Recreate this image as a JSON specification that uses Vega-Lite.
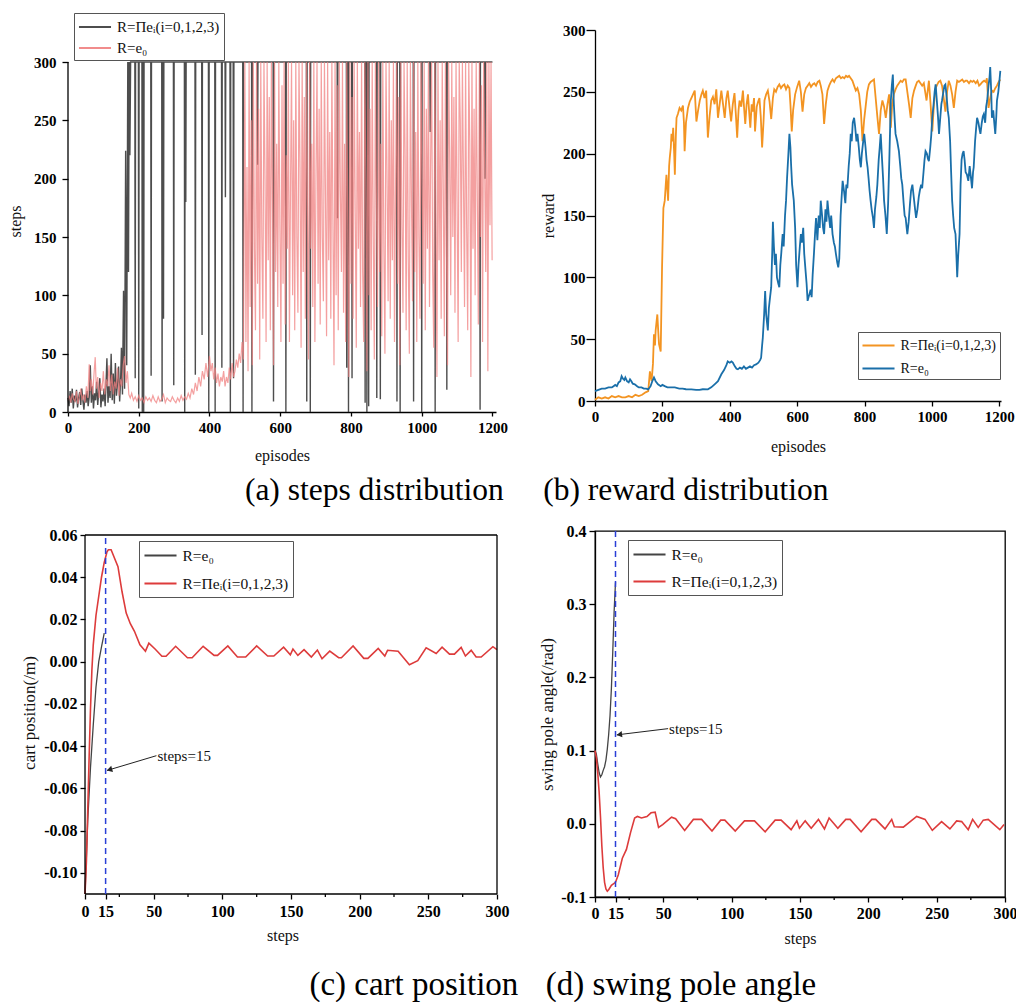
{
"$schema": "https://vega.github.io/schema/vega-lite/v6.json",
"background": "white",
"padding": {"left": 7, "top": 12, "right": 0, "bottom": 0},
"spacing": 15,
"resolve": {"scale": {"color": "independent"}, "legend": {"color": "independent"}},
"config": {
  "font": "Liberation Serif",
  "view": {"stroke": null},
  "axis": {"labelFont": "Liberation Serif", "titleFont": "Liberation Serif", "labelFontWeight": "bold", "labelFontSize": 15, "labelColor": "black", "titleFontWeight": "normal", "titleFontSize": 16, "titleColor": "#111", "domainColor": "black", "tickColor": "black", "grid": false, "domainWidth": 1.3, "tickWidth": 1.3, "labelFlush": false},
  "legend": {"labelFont": "Liberation Serif", "labelColor": "#111", "title": null, "symbolType": "M-1.78,0H1.78", "symbolSize": 324, "symbolOffset": 7, "symbolStrokeWidth": 1.8, "strokeColor": "#555", "fillColor": "white", "labelOffset": 12, "orient": "none", "direction": "vertical"},
  "title": {"font": "Liberation Serif", "fontSize": 32, "fontWeight": "normal", "color": "black"}
},
"datasets": {
  "a_black": [{"x":0,"y":12},{"x":3,"y":5},{"x":6,"y":18},{"x":9,"y":8},{"x":12,"y":20},{"x":15,"y":3},{"x":18,"y":14},{"x":21,"y":9},{"x":24,"y":19},{"x":27,"y":4},{"x":30,"y":12},{"x":33,"y":17},{"x":36,"y":6},{"x":39,"y":20},{"x":42,"y":10},{"x":45,"y":2},{"x":48,"y":15},{"x":51,"y":8},{"x":54,"y":18},{"x":57,"y":5},{"x":60,"y":13},{"x":63,"y":40},{"x":66,"y":8},{"x":69,"y":22},{"x":72,"y":3},{"x":75,"y":16},{"x":78,"y":10},{"x":81,"y":26},{"x":84,"y":6},{"x":87,"y":18},{"x":90,"y":29},{"x":93,"y":4},{"x":96,"y":15},{"x":99,"y":9},{"x":102,"y":20},{"x":105,"y":5},{"x":108,"y":28},{"x":110,"y":46},{"x":113,"y":8},{"x":116,"y":22},{"x":119,"y":12},{"x":122,"y":50},{"x":125,"y":10},{"x":128,"y":33},{"x":131,"y":7},{"x":134,"y":42},{"x":137,"y":14},{"x":140,"y":25},{"x":143,"y":39},{"x":146,"y":9},{"x":149,"y":30},{"x":151,"y":55},{"x":154,"y":15},{"x":157,"y":104},{"x":160,"y":20},{"x":163,"y":224},{"x":166,"y":40},{"x":169,"y":300},{"x":171,"y":120},{"x":173,"y":300},{"x":175,"y":220},{"x":177,"y":300},
  {"x":189,"y":300},{"x":190,"y":29},{"x":191,"y":300},{"x":199,"y":300},{"x":200,"y":3},{"x":201,"y":300},{"x":209,"y":300},{"x":210,"y":0},{"x":211,"y":300},{"x":213,"y":300},{"x":214,"y":0},{"x":215,"y":300},{"x":234,"y":300},{"x":235,"y":31},{"x":236,"y":300},{"x":265,"y":300},{"x":266,"y":9},{"x":267,"y":300},{"x":269,"y":300},{"x":270,"y":80},{"x":271,"y":300},{"x":298,"y":300},{"x":299,"y":23},{"x":300,"y":300},{"x":329,"y":300},{"x":330,"y":0},{"x":331,"y":300},{"x":332,"y":300},{"x":333,"y":180},{"x":334,"y":300},{"x":359,"y":300},{"x":360,"y":32},{"x":361,"y":300},{"x":378,"y":300},{"x":379,"y":66},{"x":380,"y":300},{"x":397,"y":300},{"x":398,"y":0},{"x":399,"y":300},{"x":415,"y":300},{"x":416,"y":0},{"x":417,"y":300},{"x":434,"y":300},{"x":435,"y":38},{"x":436,"y":300},{"x":444,"y":300},{"x":445,"y":184},{"x":446,"y":300},{"x":458,"y":300},{"x":459,"y":0},{"x":460,"y":300},{"x":467,"y":300},{"x":468,"y":29},{"x":469,"y":300},{"x":494,"y":300},{"x":495,"y":0},{"x":496,"y":300},{"x":519,"y":300},{"x":520,"y":0},{"x":521,"y":300},{"x":535,"y":300},{"x":536,"y":212},{"x":537,"y":300},{"x":580,"y":300},{"x":581,"y":9},{"x":582,"y":300},{"x":615,"y":300},{"x":616,"y":0},{"x":617,"y":300},{"x":674,"y":300},{"x":675,"y":9},{"x":676,"y":300},{"x":684,"y":300},{"x":685,"y":0},{"x":686,"y":300},{"x":761,"y":300},{"x":762,"y":166},{"x":763,"y":300},{"x":787,"y":300},{"x":788,"y":38},{"x":789,"y":300},{"x":792,"y":300},{"x":793,"y":0},{"x":794,"y":300},{"x":802,"y":300},{"x":803,"y":29},{"x":804,"y":300},{"x":839,"y":300},{"x":840,"y":8},{"x":841,"y":300},{"x":844,"y":300},{"x":845,"y":0},{"x":846,"y":300},{"x":849,"y":300},{"x":850,"y":5},{"x":851,"y":300},{"x":872,"y":300},{"x":873,"y":12},{"x":874,"y":300},{"x":882,"y":300},{"x":883,"y":11},{"x":884,"y":300},{"x":929,"y":300},{"x":930,"y":9},{"x":931,"y":300},{"x":938,"y":300},{"x":939,"y":0},{"x":940,"y":300},{"x":976,"y":300},{"x":977,"y":9},{"x":978,"y":300},{"x":999,"y":300},{"x":1000,"y":0},{"x":1001,"y":300},{"x":1023,"y":300},{"x":1024,"y":240},{"x":1025,"y":300},{"x":1037,"y":300},{"x":1038,"y":0},{"x":1039,"y":300},{"x":1070,"y":300},{"x":1071,"y":19},{"x":1072,"y":300},{"x":1164,"y":300},{"x":1165,"y":2},{"x":1166,"y":300},{"x":1178,"y":300},{"x":1179,"y":200},{"x":1180,"y":300},{"x":1200,"y":300}],
  "a_pink": [{"x":0,"y":10},{"x":4,"y":14},{"x":8,"y":8},{"x":12,"y":16},{"x":16,"y":11},{"x":20,"y":9},{"x":24,"y":18},{"x":28,"y":7},{"x":32,"y":13},{"x":36,"y":20},{"x":40,"y":10},{"x":44,"y":15},{"x":48,"y":8},{"x":52,"y":22},{"x":56,"y":12},{"x":60,"y":41},{"x":63,"y":18},{"x":66,"y":28},{"x":70,"y":15},{"x":74,"y":35},{"x":77,"y":47},{"x":80,"y":20},{"x":84,"y":30},{"x":88,"y":12},{"x":92,"y":25},{"x":96,"y":18},{"x":100,"y":35},{"x":104,"y":15},{"x":108,"y":28},{"x":112,"y":22},{"x":116,"y":40},{"x":120,"y":18},{"x":124,"y":32},{"x":128,"y":15},{"x":132,"y":26},{"x":136,"y":20},{"x":140,"y":38},{"x":144,"y":14},{"x":148,"y":28},{"x":152,"y":22},{"x":156,"y":40},{"x":160,"y":48},{"x":164,"y":25},{"x":168,"y":35},{"x":172,"y":15},{"x":176,"y":12},{"x":180,"y":16},{"x":185,"y":10},{"x":190,"y":13},{"x":195,"y":9},{"x":200,"y":14},{"x":205,"y":10},{"x":210,"y":12},{"x":215,"y":8},{"x":220,"y":13},{"x":225,"y":10},{"x":230,"y":12},{"x":235,"y":9},{"x":240,"y":14},{"x":245,"y":10},{"x":250,"y":8},{"x":255,"y":13},{"x":260,"y":9},{"x":265,"y":11},{"x":270,"y":15},{"x":275,"y":8},{"x":280,"y":12},{"x":285,"y":10},{"x":290,"y":9},{"x":295,"y":13},{"x":300,"y":10},{"x":305,"y":8},{"x":310,"y":12},{"x":315,"y":9},{"x":320,"y":14},{"x":325,"y":10},{"x":330,"y":13},{"x":335,"y":11},{"x":340,"y":16},{"x":345,"y":12},{"x":350,"y":20},{"x":355,"y":15},{"x":360,"y":25},{"x":365,"y":18},{"x":370,"y":30},{"x":375,"y":22},{"x":380,"y":35},{"x":385,"y":28},{"x":390,"y":42},{"x":395,"y":30},{"x":400,"y":48},{"x":404,"y":35},{"x":408,"y":42},{"x":412,"y":28},{"x":416,"y":38},{"x":420,"y":25},{"x":424,"y":33},{"x":428,"y":22},{"x":432,"y":30},{"x":436,"y":26},{"x":440,"y":35},{"x":444,"y":22},{"x":448,"y":30},{"x":452,"y":25},{"x":456,"y":38},{"x":460,"y":28},{"x":464,"y":42},{"x":468,"y":30},{"x":472,"y":35},{"x":476,"y":45},{"x":480,"y":38},{"x":484,"y":50},{"x":488,"y":42},{"x":492,"y":60},{"x":496,"y":45},{"x":500,"y":300},{"x":503,"y":60},{"x":506,"y":210},{"x":509,"y":35},{"x":512,"y":300},{"x":515,"y":90},{"x":518,"y":250},{"x":521,"y":40},{"x":524,"y":300},{"x":527,"y":140},{"x":530,"y":70},{"x":533,"y":300},{"x":536,"y":110},{"x":539,"y":260},{"x":542,"y":45},{"x":545,"y":300},{"x":548,"y":150},{"x":551,"y":80},{"x":554,"y":300},{"x":557,"y":200},{"x":560,"y":60},{"x":563,"y":300},{"x":566,"y":130},{"x":569,"y":270},{"x":572,"y":70},{"x":575,"y":300},{"x":578,"y":180},{"x":581,"y":40},{"x":584,"y":300},{"x":587,"y":120},{"x":590,"y":230},{"x":593,"y":90},{"x":596,"y":300},{"x":599,"y":160},{"x":602,"y":60},{"x":605,"y":280},{"x":608,"y":110},{"x":611,"y":300},{"x":614,"y":75},{"x":617,"y":220},{"x":620,"y":140},{"x":623,"y":300},{"x":626,"y":60},{"x":629,"y":190},{"x":632,"y":300},{"x":635,"y":100},{"x":638,"y":250},{"x":641,"y":70},{"x":644,"y":300},{"x":647,"y":150},{"x":650,"y":85},{"x":653,"y":300},{"x":656,"y":210},{"x":659,"y":55},{"x":662,"y":300},{"x":665,"y":120},{"x":668,"y":270},{"x":671,"y":80},{"x":674,"y":300},{"x":677,"y":175},{"x":680,"y":45},{"x":683,"y":300},{"x":686,"y":140},{"x":689,"y":230},{"x":692,"y":90},{"x":695,"y":300},{"x":698,"y":60},{"x":701,"y":200},{"x":704,"y":300},{"x":707,"y":110},{"x":710,"y":260},{"x":713,"y":75},{"x":716,"y":300},{"x":719,"y":150},{"x":722,"y":95},{"x":725,"y":300},{"x":728,"y":180},{"x":731,"y":65},{"x":734,"y":300},{"x":737,"y":130},{"x":740,"y":240},{"x":743,"y":80},{"x":746,"y":300},{"x":749,"y":160},{"x":752,"y":40},{"x":755,"y":300},{"x":758,"y":100},{"x":761,"y":280},{"x":764,"y":70},{"x":767,"y":300},{"x":770,"y":190},{"x":773,"y":120},{"x":776,"y":300},{"x":779,"y":85},{"x":782,"y":230},{"x":785,"y":60},{"x":788,"y":300},{"x":791,"y":150},{"x":794,"y":30},{"x":797,"y":300},{"x":800,"y":110},{"x":803,"y":270},{"x":806,"y":80},{"x":809,"y":300},{"x":812,"y":170},{"x":815,"y":55},{"x":818,"y":300},{"x":821,"y":140},{"x":824,"y":240},{"x":827,"y":90},{"x":830,"y":300},{"x":833,"y":120},{"x":836,"y":60},{"x":839,"y":300},{"x":842,"y":200},{"x":845,"y":35},{"x":848,"y":300},{"x":851,"y":100},{"x":854,"y":260},{"x":857,"y":70},{"x":860,"y":300},{"x":863,"y":150},{"x":866,"y":45},{"x":869,"y":300},{"x":872,"y":180},{"x":875,"y":90},{"x":878,"y":300},{"x":881,"y":120},{"x":884,"y":230},{"x":887,"y":65},{"x":890,"y":300},{"x":893,"y":140},{"x":896,"y":50},{"x":899,"y":300},{"x":902,"y":200},{"x":905,"y":95},{"x":908,"y":300},{"x":911,"y":80},{"x":914,"y":250},{"x":917,"y":130},{"x":920,"y":300},{"x":923,"y":60},{"x":926,"y":190},{"x":929,"y":300},{"x":932,"y":110},{"x":935,"y":270},{"x":938,"y":40},{"x":941,"y":300},{"x":944,"y":160},{"x":947,"y":85},{"x":950,"y":300},{"x":953,"y":220},{"x":956,"y":70},{"x":959,"y":300},{"x":962,"y":130},{"x":965,"y":50},{"x":968,"y":300},{"x":971,"y":180},{"x":974,"y":95},{"x":977,"y":300},{"x":980,"y":120},{"x":983,"y":240},{"x":986,"y":60},{"x":989,"y":300},{"x":992,"y":150},{"x":995,"y":80},{"x":998,"y":300},{"x":1001,"y":200},{"x":1004,"y":110},{"x":1007,"y":300},{"x":1010,"y":70},{"x":1013,"y":260},{"x":1016,"y":140},{"x":1019,"y":300},{"x":1022,"y":90},{"x":1025,"y":210},{"x":1028,"y":300},{"x":1031,"y":120},{"x":1034,"y":55},{"x":1037,"y":300},{"x":1040,"y":170},{"x":1043,"y":30},{"x":1046,"y":300},{"x":1049,"y":130},{"x":1052,"y":250},{"x":1055,"y":80},{"x":1058,"y":300},{"x":1061,"y":190},{"x":1064,"y":65},{"x":1067,"y":300},{"x":1070,"y":140},{"x":1073,"y":40},{"x":1076,"y":300},{"x":1079,"y":220},{"x":1082,"y":100},{"x":1085,"y":300},{"x":1088,"y":150},{"x":1091,"y":270},{"x":1094,"y":85},{"x":1097,"y":300},{"x":1100,"y":180},{"x":1103,"y":60},{"x":1106,"y":300},{"x":1109,"y":250},{"x":1112,"y":120},{"x":1115,"y":300},{"x":1118,"y":200},{"x":1121,"y":90},{"x":1124,"y":300},{"x":1127,"y":160},{"x":1130,"y":70},{"x":1133,"y":300},{"x":1136,"y":230},{"x":1139,"y":30},{"x":1142,"y":300},{"x":1145,"y":140},{"x":1148,"y":260},{"x":1151,"y":100},{"x":1154,"y":300},{"x":1157,"y":190},{"x":1160,"y":75},{"x":1163,"y":300},{"x":1166,"y":150},{"x":1169,"y":280},{"x":1172,"y":60},{"x":1175,"y":300},{"x":1178,"y":210},{"x":1181,"y":120},{"x":1184,"y":300},{"x":1187,"y":35},{"x":1190,"y":300},{"x":1193,"y":160},{"x":1196,"y":300},{"x":1199,"y":130}],
  "a_axis": [{"x":0,"y":0,"y2":300}],
  "b_orange": [{"x":0,"y":1},{"x":10,"y":3},{"x":20,"y":2},{"x":30,"y":3},{"x":40,"y":2},{"x":50,"y":4},{"x":60,"y":3},{"x":70,"y":4},{"x":80,"y":3},{"x":90,"y":3},{"x":100,"y":4},{"x":110,"y":3},{"x":120,"y":5},{"x":130,"y":4},{"x":140,"y":5},{"x":150,"y":7},{"x":158,"y":8},{"x":163,"y":24},{"x":168,"y":16},{"x":172,"y":30},{"x":175,"y":54},{"x":178,"y":45},{"x":180,"y":57},{"x":183,"y":65},{"x":185,"y":70},{"x":188,"y":55},{"x":190,"y":46},{"x":195,"y":40},{"x":199,"y":108},{"x":203,"y":156},{"x":207,"y":162},{"x":210,"y":175},{"x":212,"y":183},{"x":215,"y":170},{"x":217,"y":162},{"x":220,"y":190},{"x":222,"y":197},{"x":225,"y":205},{"x":227,"y":216},{"x":230,"y":210},{"x":232,"y":221},{"x":235,"y":200},{"x":237,"y":183},{"x":240,"y":215},{"x":242,"y":229},{"x":246,"y":232},{"x":251,"y":237},{"x":256,"y":235},{"x":261,"y":239},{"x":264,"y":225},{"x":266,"y":202},{"x":270,"y":225},{"x":276,"y":237},{"x":281,"y":242},{"x":286,"y":245},{"x":291,"y":248},{"x":296,"y":251},{"x":301,"y":226},{"x":306,"y":235},{"x":311,"y":243},{"x":316,"y":248},{"x":320,"y":251},{"x":325,"y":245},{"x":330,"y":251},{"x":335,"y":213},{"x":340,"y":230},{"x":345,"y":243},{"x":350,"y":246},{"x":355,"y":240},{"x":360,"y":252},{"x":365,"y":229},{"x":370,"y":240},{"x":375,"y":251},{"x":380,"y":240},{"x":385,"y":229},{"x":390,"y":245},{"x":394,"y":251},{"x":399,"y":238},{"x":404,"y":226},{"x":409,"y":240},{"x":414,"y":249},{"x":418,"y":232},{"x":422,"y":213},{"x":426,"y":235},{"x":429,"y":243},{"x":434,"y":238},{"x":439,"y":251},{"x":443,"y":235},{"x":446,"y":224},{"x":450,"y":240},{"x":454,"y":248},{"x":458,"y":232},{"x":461,"y":221},{"x":465,"y":240},{"x":468,"y":234},{"x":472,"y":245},{"x":475,"y":218},{"x":480,"y":238},{"x":484,"y":242},{"x":488,"y":245},{"x":492,"y":230},{"x":496,"y":205},{"x":500,"y":225},{"x":503,"y":243},{"x":508,"y":248},{"x":513,"y":251},{"x":518,"y":242},{"x":523,"y":228},{"x":528,"y":245},{"x":532,"y":252},{"x":537,"y":250},{"x":542,"y":254},{"x":547,"y":256},{"x":552,"y":253},{"x":557,"y":255},{"x":562,"y":256},{"x":567,"y":252},{"x":572,"y":255},{"x":577,"y":253},{"x":580,"y":240},{"x":584,"y":218},{"x":588,"y":235},{"x":594,"y":248},{"x":600,"y":254},{"x":606,"y":259},{"x":611,"y":250},{"x":616,"y":234},{"x":621,"y":248},{"x":626,"y":253},{"x":631,"y":255},{"x":636,"y":257},{"x":641,"y":254},{"x":646,"y":256},{"x":651,"y":257},{"x":656,"y":255},{"x":661,"y":258},{"x":666,"y":259},{"x":670,"y":255},{"x":675,"y":248},{"x":680,"y":224},{"x":685,"y":240},{"x":690,"y":251},{"x":695,"y":255},{"x":700,"y":258},{"x":705,"y":260},{"x":710,"y":258},{"x":715,"y":261},{"x":720,"y":262},{"x":725,"y":263},{"x":730,"y":261},{"x":735,"y":262},{"x":740,"y":261},{"x":745,"y":263},{"x":750,"y":262},{"x":754,"y":263},{"x":759,"y":261},{"x":764,"y":259},{"x":769,"y":255},{"x":774,"y":251},{"x":779,"y":253},{"x":784,"y":248},{"x":789,"y":235},{"x":794,"y":210},{"x":799,"y":228},{"x":804,"y":240},{"x":808,"y":250},{"x":813,"y":256},{"x":818,"y":258},{"x":823,"y":259},{"x":828,"y":260},{"x":833,"y":245},{"x":838,"y":230},{"x":843,"y":216},{"x":848,"y":235},{"x":853,"y":243},{"x":858,"y":238},{"x":863,"y":229},{"x":868,"y":240},{"x":873,"y":248},{"x":878,"y":221},{"x":882,"y":240},{"x":887,"y":248},{"x":892,"y":252},{"x":897,"y":255},{"x":902,"y":257},{"x":907,"y":259},{"x":912,"y":258},{"x":917,"y":260},{"x":922,"y":260},{"x":927,"y":250},{"x":932,"y":240},{"x":937,"y":229},{"x":942,"y":245},{"x":947,"y":251},{"x":952,"y":255},{"x":956,"y":258},{"x":961,"y":259},{"x":966,"y":257},{"x":971,"y":255},{"x":976,"y":257},{"x":980,"y":250},{"x":984,"y":243},{"x":988,"y":252},{"x":991,"y":259},{"x":996,"y":240},{"x":1001,"y":218},{"x":1006,"y":240},{"x":1011,"y":253},{"x":1016,"y":256},{"x":1020,"y":258},{"x":1025,"y":259},{"x":1030,"y":255},{"x":1035,"y":245},{"x":1040,"y":234},{"x":1045,"y":250},{"x":1050,"y":259},{"x":1055,"y":255},{"x":1060,"y":248},{"x":1065,"y":237},{"x":1070,"y":250},{"x":1075,"y":259},{"x":1080,"y":258},{"x":1085,"y":259},{"x":1090,"y":260},{"x":1095,"y":258},{"x":1100,"y":259},{"x":1104,"y":259},{"x":1110,"y":257},{"x":1115,"y":259},{"x":1120,"y":258},{"x":1124,"y":259},{"x":1130,"y":257},{"x":1135,"y":259},{"x":1140,"y":255},{"x":1144,"y":256},{"x":1150,"y":258},{"x":1155,"y":259},{"x":1160,"y":258},{"x":1163,"y":261},{"x":1168,"y":237},{"x":1173,"y":245},{"x":1178,"y":251},{"x":1183,"y":250},{"x":1188,"y":253},{"x":1193,"y":255},{"x":1198,"y":258},{"x":1203,"y":260}],
  "b_blue": [{"x":0,"y":8},{"x":10,"y":9},{"x":20,"y":10},{"x":30,"y":10},{"x":40,"y":11},{"x":50,"y":11},{"x":55,"y":12},{"x":60,"y":13},{"x":65,"y":12},{"x":70,"y":15},{"x":75,"y":16},{"x":79,"y":20},{"x":83,"y":18},{"x":87,"y":17},{"x":90,"y":19},{"x":95,"y":16},{"x":100,"y":15},{"x":104,"y":17.5},{"x":108,"y":16},{"x":112,"y":14},{"x":118,"y":13.5},{"x":125,"y":12},{"x":130,"y":11},{"x":138,"y":11},{"x":145,"y":10},{"x":152,"y":10},{"x":158,"y":9.4},{"x":165,"y":12},{"x":170,"y":16},{"x":175,"y":19},{"x":180,"y":16},{"x":187,"y":13.5},{"x":195,"y":12},{"x":200,"y":13},{"x":207,"y":12},{"x":215,"y":11},{"x":225,"y":11},{"x":237,"y":11},{"x":250,"y":10},{"x":260,"y":10},{"x":270,"y":9.5},{"x":286,"y":9.4},{"x":300,"y":9},{"x":310,"y":9},{"x":320,"y":9.5},{"x":335,"y":9.4},{"x":345,"y":11},{"x":355,"y":13.5},{"x":365,"y":16},{"x":375,"y":21.6},{"x":383,"y":25},{"x":390,"y":29},{"x":394,"y":32},{"x":400,"y":31},{"x":405,"y":32},{"x":409,"y":31},{"x":415,"y":28},{"x":420,"y":26},{"x":424,"y":25.6},{"x":430,"y":27},{"x":436,"y":26},{"x":442,"y":28},{"x":448,"y":26},{"x":454,"y":27},{"x":460,"y":28},{"x":466,"y":27},{"x":472,"y":29},{"x":478,"y":29.6},{"x":485,"y":31},{"x":490,"y":33},{"x":493,"y":35},{"x":496,"y":45},{"x":498,"y":51},{"x":502,"y":70},{"x":505,"y":89},{"x":508,"y":70},{"x":513,"y":57},{"x":516,"y":75},{"x":520,"y":85},{"x":523,"y":92},{"x":526,"y":120},{"x":528,"y":145},{"x":531,"y":125},{"x":534,"y":110},{"x":537,"y":119},{"x":540,"y":100},{"x":544,"y":95},{"x":547,"y":92},{"x":550,"y":110},{"x":553,"y":120},{"x":557,"y":135},{"x":560,"y":125},{"x":564,"y":150},{"x":567,"y":162},{"x":570,"y":180},{"x":574,"y":200},{"x":577,"y":216},{"x":580,"y":205},{"x":582,"y":191},{"x":585,"y":175},{"x":590,"y":162},{"x":594,"y":140},{"x":597,"y":110},{"x":601,"y":92},{"x":604,"y":110},{"x":608,"y":125},{"x":611,"y":135},{"x":614,"y":128},{"x":618,"y":140},{"x":621,"y":119},{"x":625,"y":105},{"x":628,"y":95},{"x":631,"y":81},{"x":635,"y":85},{"x":640,"y":90},{"x":643,"y":84},{"x":646,"y":102},{"x":650,"y":120},{"x":653,"y":135},{"x":656,"y":148},{"x":660,"y":130},{"x":664,"y":150},{"x":667,"y":140},{"x":670,"y":162},{"x":674,"y":150},{"x":677,"y":140},{"x":680,"y":135},{"x":684,"y":155},{"x":687,"y":145},{"x":690,"y":162},{"x":694,"y":150},{"x":698,"y":140},{"x":701,"y":150},{"x":705,"y":135},{"x":709,"y":128},{"x":712,"y":125},{"x":715,"y":119},{"x":719,"y":112},{"x":722,"y":108},{"x":725,"y":115},{"x":729,"y":150},{"x":732,"y":165},{"x":735,"y":178},{"x":739,"y":170},{"x":743,"y":160},{"x":746,"y":175},{"x":749,"y":172},{"x":753,"y":190},{"x":756,"y":200},{"x":759,"y":216},{"x":762,"y":210},{"x":765,"y":225},{"x":769,"y":229},{"x":772,"y":222},{"x":776,"y":210},{"x":779,"y":216},{"x":783,"y":205},{"x":786,"y":195},{"x":789,"y":189},{"x":792,"y":200},{"x":796,"y":210},{"x":799,"y":216},{"x":803,"y":205},{"x":806,"y":195},{"x":809,"y":189},{"x":812,"y":180},{"x":815,"y":170},{"x":818,"y":162},{"x":821,"y":155},{"x":825,"y":148},{"x":828,"y":140},{"x":831,"y":155},{"x":835,"y":165},{"x":838,"y":175},{"x":842,"y":195},{"x":845,"y":205},{"x":848,"y":216},{"x":851,"y":200},{"x":855,"y":180},{"x":858,"y":162},{"x":862,"y":150},{"x":866,"y":135},{"x":870,"y":160},{"x":874,"y":200},{"x":878,"y":243},{"x":881,"y":255},{"x":884,"y":264},{"x":887,"y":240},{"x":890,"y":225},{"x":892,"y":216},{"x":897,"y":210},{"x":902,"y":202},{"x":906,"y":190},{"x":909,"y":180},{"x":912,"y":175},{"x":916,"y":160},{"x":919,"y":150},{"x":922,"y":148},{"x":925,"y":140},{"x":927,"y":135},{"x":931,"y":145},{"x":935,"y":160},{"x":938,"y":170},{"x":942,"y":175},{"x":946,"y":165},{"x":950,"y":155},{"x":953,"y":148},{"x":957,"y":155},{"x":961,"y":165},{"x":964,"y":170},{"x":968,"y":175},{"x":971,"y":172},{"x":975,"y":185},{"x":978,"y":195},{"x":981,"y":202},{"x":985,"y":200},{"x":988,"y":196},{"x":991,"y":194},{"x":995,"y":205},{"x":998,"y":215},{"x":1001,"y":229},{"x":1005,"y":240},{"x":1008,"y":250},{"x":1011,"y":256},{"x":1014,"y":245},{"x":1018,"y":230},{"x":1021,"y":216},{"x":1025,"y":230},{"x":1028,"y":240},{"x":1030,"y":243},{"x":1034,"y":250},{"x":1037,"y":255},{"x":1040,"y":256},{"x":1044,"y":245},{"x":1047,"y":235},{"x":1050,"y":229},{"x":1054,"y":210},{"x":1057,"y":185},{"x":1060,"y":162},{"x":1063,"y":150},{"x":1066,"y":140},{"x":1070,"y":135},{"x":1073,"y":115},{"x":1075,"y":100},{"x":1078,"y":118},{"x":1082,"y":135},{"x":1085,"y":175},{"x":1088,"y":195},{"x":1091,"y":200},{"x":1094,"y":202},{"x":1097,"y":195},{"x":1100,"y":185},{"x":1104,"y":183},{"x":1108,"y":178},{"x":1112,"y":190},{"x":1116,"y":180},{"x":1119,"y":172},{"x":1122,"y":185},{"x":1124,"y":189},{"x":1128,"y":210},{"x":1131,"y":220},{"x":1134,"y":229},{"x":1138,"y":225},{"x":1141,"y":220},{"x":1144,"y":216},{"x":1148,"y":225},{"x":1151,"y":230},{"x":1154,"y":232},{"x":1158,"y":225},{"x":1161,"y":238},{"x":1164,"y":243},{"x":1168,"y":255},{"x":1171,"y":262},{"x":1173,"y":270},{"x":1176,"y":250},{"x":1178,"y":229},{"x":1182,"y":235},{"x":1185,"y":225},{"x":1188,"y":216},{"x":1191,"y":230},{"x":1193,"y":243},{"x":1197,"y":250},{"x":1200,"y":258},{"x":1203,"y":267}],
  "c_black": [{"x":0,"y":-0.11},{"x":2,"y":-0.075},{"x":4,"y":-0.05},{"x":6,"y":-0.03},{"x":8,"y":-0.012},{"x":10,"y":0.0},{"x":12,"y":0.007},{"x":14,"y":0.0135}],
  "c_red": [{"x":0,"y":-0.11},{"x":1,"y":-0.095},{"x":2,"y":-0.07},{"x":3,"y":-0.045},{"x":4,"y":-0.022},{"x":5,"y":-0.004},{"x":6,"y":0.008},{"x":8,"y":0.022},{"x":10,"y":0.031},{"x":12,"y":0.04},{"x":14,"y":0.047},{"x":16,"y":0.052},{"x":17,"y":0.053},{"x":19,"y":0.053},{"x":24,"y":0.045},{"x":27,"y":0.033},{"x":30,"y":0.023},{"x":33,"y":0.018},{"x":36,"y":0.0144},{"x":40,"y":0.008},{"x":42,"y":0.0065},{"x":44,"y":0.005},{"x":46.5,"y":0.0088},{"x":51,"y":0.006},{"x":56,"y":0.0026},{"x":59,"y":0.0026},{"x":66,"y":0.0073},{"x":74.6,"y":0.0019},{"x":78,"y":0.0019},{"x":86,"y":0.0073},{"x":94,"y":0.003},{"x":96.5,"y":0.003},{"x":104,"y":0.0075},{"x":111,"y":0.0022},{"x":117,"y":0.0022},{"x":125,"y":0.0075},{"x":133,"y":0.0027},{"x":137.5,"y":0.0027},{"x":144.6,"y":0.0069},{"x":149.5,"y":0.0033},{"x":151.4,"y":0.006},{"x":155,"y":0.003},{"x":159.5,"y":0.0057},{"x":164.8,"y":0.0022},{"x":169.2,"y":0.0055},{"x":172.6,"y":0.0014},{"x":178.2,"y":0.005},{"x":184.7,"y":0.0019},{"x":186.7,"y":0.0019},{"x":195.2,"y":0.0075},{"x":203,"y":0.0016},{"x":206,"y":0.0016},{"x":213.5,"y":0.0063},{"x":218.3,"y":0.0027},{"x":220.3,"y":0.0054},{"x":228,"y":0.005},{"x":236.2,"y":-0.0014},{"x":242.3,"y":0.0005},{"x":248.4,"y":0.0066},{"x":255.7,"y":0.0039},{"x":260,"y":0.0069},{"x":265.4,"y":0.0036},{"x":269,"y":0.0036},{"x":273.9,"y":0.0068},{"x":277,"y":0.0027},{"x":281.2,"y":0.0054},{"x":284.8,"y":0.0022},{"x":288.5,"y":0.0022},{"x":297,"y":0.0071},{"x":300,"y":0.0057}],
  "c_frame": [{"x":0,"y":-0.11,"x2":300,"y2":-0.11},{"x":0,"y":0.06,"x2":300,"y2":0.06},{"x":0,"y":-0.11,"x2":0,"y2":0.06},{"x":300,"y":-0.11,"x2":300,"y2":0.06}],
  "c_minor": [{"x":25,"y":-0.11,"y2":-0.1114},{"x":75,"y":-0.11,"y2":-0.1114},{"x":125,"y":-0.11,"y2":-0.1114},{"x":175,"y":-0.11,"y2":-0.1114},{"x":225,"y":-0.11,"y2":-0.1114},{"x":275,"y":-0.11,"y2":-0.1114}],
  "d_minor": [{"x":25,"y":-0.1,"y2":-0.1041},{"x":75,"y":-0.1,"y2":-0.1041},{"x":125,"y":-0.1,"y2":-0.1041},{"x":175,"y":-0.1,"y2":-0.1041},{"x":225,"y":-0.1,"y2":-0.1041},{"x":275,"y":-0.1,"y2":-0.1041}],
  "d_black": [{"x":0,"y":0.1},{"x":1,"y":0.095},{"x":2,"y":0.082},{"x":3,"y":0.07},{"x":4,"y":0.064},{"x":5,"y":0.067},{"x":6,"y":0.073},{"x":7,"y":0.078},{"x":8,"y":0.087},{"x":9,"y":0.102},{"x":10,"y":0.122},{"x":11,"y":0.148},{"x":12,"y":0.185},{"x":13,"y":0.235},{"x":14,"y":0.29},{"x":15,"y":0.33}],
  "d_red": [{"x":0,"y":0.1},{"x":1,"y":0.09},{"x":2,"y":0.07},{"x":3,"y":0.044},{"x":4,"y":0.01},{"x":5,"y":-0.03},{"x":6,"y":-0.06},{"x":7,"y":-0.08},{"x":8,"y":-0.089},{"x":9,"y":-0.092},{"x":10,"y":-0.09},{"x":12,"y":-0.084},{"x":15,"y":-0.08},{"x":17,"y":-0.07},{"x":20,"y":-0.047},{"x":23,"y":-0.035},{"x":26,"y":-0.012},{"x":29,"y":0.008},{"x":31,"y":0.01},{"x":34,"y":0.008},{"x":38,"y":0.01},{"x":41,"y":0.015},{"x":44,"y":0.016},{"x":46.5,"y":-0.005},{"x":49.5,"y":-0.001},{"x":56,"y":0.009},{"x":59,"y":0.007},{"x":65.6,"y":-0.009},{"x":72,"y":0.006},{"x":78,"y":0.006},{"x":85.6,"y":-0.01},{"x":92,"y":0.005},{"x":95,"y":0.005},{"x":102.6,"y":-0.01},{"x":109.4,"y":0.004},{"x":116.7,"y":0.004},{"x":124.5,"y":-0.011},{"x":131.8,"y":0.005},{"x":136.2,"y":0.005},{"x":143.5,"y":-0.008},{"x":147.7,"y":0.004},{"x":149.6,"y":-0.006},{"x":153.8,"y":0.004},{"x":158.2,"y":-0.006},{"x":163.5,"y":0.006},{"x":167.9,"y":-0.007},{"x":171.3,"y":0.008},{"x":177.7,"y":-0.006},{"x":183.5,"y":0.006},{"x":186.7,"y":0.006},{"x":194.7,"y":-0.011},{"x":202.5,"y":0.006},{"x":205.4,"y":0.006},{"x":212.2,"y":-0.007},{"x":217.1,"y":0.006},{"x":219,"y":-0.004},{"x":225.6,"y":-0.0045},{"x":235.4,"y":0.01},{"x":241.5,"y":0.006},{"x":246.8,"y":-0.009},{"x":253.6,"y":0.003},{"x":259.7,"y":-0.007},{"x":264.6,"y":0.004},{"x":268.3,"y":0.003},{"x":273.1,"y":-0.008},{"x":276.3,"y":0.006},{"x":280.4,"y":-0.005},{"x":284.1,"y":0.005},{"x":287.7,"y":0.006},{"x":296.2,"y":-0.008},{"x":299.3,"y":-0.001}],
  "vline": [{"x":15}],
  "c_note": [{"x":52,"y":-0.0445,"x2":16,"y2":-0.0515,"hx":17.8,"hy":-0.0511,"label":"steps=15"}],
  "d_note": [{"x":53.5,"y":0.13,"x2":16,"y2":0.1215,"hx":17.8,"hy":0.1219,"label":"steps=15"}]
},
"vconcat": [
 {
  "hconcat": [
   {
    "width": 428, "height": 382,
    "layer": [
     {"data": {"name": "a_black"}, "mark": {"type": "line", "strokeWidth": 1.4, "opacity": 0.9},
      "encoding": {
       "x": {"field": "x", "type": "quantitative", "scale": {"domain": [0, 1210], "nice": false}, "axis": {"values": [0,200,400,600,800,1000,1200], "format": "d", "title": "episodes", "tickSize": 4, "labelPadding": 4, "titlePadding": 12}},
       "y": {"field": "y", "type": "quantitative", "scale": {"domain": [0, 327.43], "nice": false}, "axis": {"values": [0,50,100,150,200,250,300], "domain": false, "title": "steps", "tickSize": 6, "labelPadding": 6, "minExtent": 35, "maxExtent": 35, "titlePadding": 10}},
       "color": {"datum": "R=Πeᵢ(i=0,1,2,3)", "scale": {"domain": ["R=Πeᵢ(i=0,1,2,3)", "R=e₀"], "range": ["#3a3a3a", "#f08080"]}, "legend": {"legendX": 6, "legendY": -17, "labelFontSize": 15, "padding": 4, "rowPadding": 3}}
      }},
     {"data": {"name": "a_pink"}, "mark": {"type": "line", "strokeWidth": 1.2, "opacity": 0.75},
      "encoding": {"x": {"field": "x", "type": "quantitative"}, "y": {"field": "y", "type": "quantitative"}, "color": {"datum": "R=e₀"}}},
     {"data": {"name": "a_axis"}, "mark": {"type": "rule", "color": "black", "strokeWidth": 1.3},
      "encoding": {"x": {"field": "x", "type": "quantitative"}, "y": {"field": "y", "type": "quantitative"}, "y2": {"field": "y2"}}}
    ]
   },
   {
    "width": 406, "height": 371,
    "layer": [
     {"data": {"name": "b_orange"}, "mark": {"type": "line", "strokeWidth": 1.8},
      "encoding": {
       "x": {"field": "x", "type": "quantitative", "scale": {"domain": [0, 1205], "nice": false}, "axis": {"values": [0,200,400,600,800,1000,1200], "format": "d", "title": "episodes", "tickSize": 5, "labelPadding": 3, "titlePadding": 14}},
       "y": {"field": "y", "type": "quantitative", "scale": {"domain": [0, 300], "nice": false}, "axis": {"values": [0,50,100,150,200,250,300], "title": "reward", "tickSize": 9, "labelPadding": 1, "minExtent": 32, "maxExtent": 32, "titlePadding": 7}},
       "color": {"datum": "R=Πeᵢ(i=0,1,2,3)", "scale": {"domain": ["R=Πeᵢ(i=0,1,2,3)", "R=e₀"], "range": ["#f39422", "#1a6fa9"]}, "legend": {"legendX": 263, "legendY": 302, "labelFontSize": 14, "padding": 3.5, "rowPadding": 6}}
      }},
     {"data": {"name": "b_blue"}, "mark": {"type": "line", "strokeWidth": 1.8},
      "encoding": {"x": {"field": "x", "type": "quantitative"}, "y": {"field": "y", "type": "quantitative"}, "color": {"datum": "R=e₀"}}}
    ]
   }
  ],
  "spacing": 32,
  "resolve": {"scale": {"color": "independent"}, "legend": {"color": "independent"}},
  "title": {"text": "(a) steps distribution\u00a0\u00a0\u00a0\u00a0\u00a0(b) reward distribution", "orient": "bottom", "anchor": "middle", "dx": 26, "offset": 12, "fontSize": 31.5}
 },
 {
  "hconcat": [
   {
    "width": 429, "height": 363,
    "layer": [
     {"data": {"name": "c_black"}, "mark": {"type": "line", "strokeWidth": 1.3},
      "encoding": {
       "x": {"field": "x", "type": "quantitative", "scale": {"domain": [-12.39, 300], "nice": false, "zero": false}, "axis": {"values": [0,15,50,100,150,200,250,300], "domain": false, "tickSize": 5, "title": "steps", "labelPadding": 4, "titlePadding": 8, "labelFontSize": 16}},
       "y": {"field": "y", "type": "quantitative", "scale": {"domain": [-0.11, 0.0619], "nice": false, "zero": false}, "axis": {"values": [-0.1,-0.09,-0.08,-0.07,-0.06,-0.05,-0.04,-0.03,-0.02,-0.01,0,0.01,0.02,0.03,0.04,0.05,0.06], "domain": false, "offset": -17, "labelExpr": "round(datum.value*100) % 2 == 0 ? replace(format(datum.value, '.2f'), '\u2212', '-') : ''", "tickSize": {"condition": {"test": "round(datum.value*100) % 2 != 0", "value": 3}, "value": 5}, "title": "cart position(/m)", "titleFontSize": 17, "labelFontSize": 16, "labelPadding": 3, "minExtent": 41, "maxExtent": 41, "titlePadding": 6}},
       "color": {"datum": "R=e₀", "scale": {"domain": ["R=e₀", "R=Πeᵢ(i=0,1,2,3)"], "range": ["#444444", "#dd3b3b"]}, "legend": {"legendX": 71, "legendY": 10, "labelFontSize": 15.5, "padding": 4.5, "rowPadding": 9}}
      }},
     {"data": {"name": "c_red"}, "mark": {"type": "line", "strokeWidth": 1.6},
      "encoding": {"x": {"field": "x", "type": "quantitative"}, "y": {"field": "y", "type": "quantitative"}, "color": {"datum": "R=Πeᵢ(i=0,1,2,3)"}}},
     {"data": {"name": "c_frame"}, "mark": {"type": "rule", "color": "black", "strokeWidth": 1.3},
      "encoding": {"x": {"field": "x", "type": "quantitative"}, "y": {"field": "y", "type": "quantitative"}, "x2": {"field": "x2"}, "y2": {"field": "y2"}}},
     {"data": {"name": "c_minor"}, "mark": {"type": "rule", "color": "black", "strokeWidth": 1.3},
      "encoding": {"x": {"field": "x", "type": "quantitative"}, "y": {"field": "y", "type": "quantitative"}, "y2": {"field": "y2"}}},
     {"data": {"name": "vline"}, "mark": {"type": "rule", "color": "#2a3fd6", "strokeDash": [6, 4], "strokeWidth": 1.5},
      "encoding": {"x": {"field": "x", "type": "quantitative"}, "y": {"datum": -0.11, "type": "quantitative"}, "y2": {"datum": 0.06}}},
     {"data": {"name": "c_note"}, "mark": {"type": "rule", "color": "#222", "strokeWidth": 1},
      "encoding": {"x": {"field": "x", "type": "quantitative"}, "y": {"field": "y", "type": "quantitative"}, "x2": {"field": "x2"}, "y2": {"field": "y2"}}},
     {"data": {"name": "c_note"}, "mark": {"type": "point", "shape": "triangle-left", "filled": true, "color": "#222", "size": 40, "angle": -16, "opacity": 1},
      "encoding": {"x": {"field": "hx", "type": "quantitative"}, "y": {"field": "hy", "type": "quantitative"}}},
     {"data": {"name": "c_note"}, "mark": {"type": "text", "align": "left", "baseline": "middle", "font": "Liberation Serif", "fontSize": 15, "color": "#111", "dx": 1},
      "encoding": {"x": {"field": "x", "type": "quantitative"}, "y": {"field": "y", "type": "quantitative"}, "text": {"field": "label"}}}
    ]
   },
   {
    "width": 410, "height": 366,
    "view": {"stroke": "black", "strokeWidth": 1.3},
    "layer": [
     {"data": {"name": "d_black"}, "mark": {"type": "line", "strokeWidth": 1.3},
      "encoding": {
       "x": {"field": "x", "type": "quantitative", "scale": {"domain": [0, 300], "nice": false}, "axis": {"values": [0,15,50,100,150,200,250,300], "tickSize": 5, "title": "steps", "labelPadding": 3, "titlePadding": 9, "labelFontSize": 16}},
       "y": {"field": "y", "type": "quantitative", "scale": {"domain": [-0.1, 0.4], "nice": false, "zero": false}, "axis": {"values": [-0.1,-0.05,0,0.05,0.1,0.15,0.2,0.25,0.3,0.35,0.4], "labelExpr": "round(datum.value*20) % 2 == 0 ? replace(format(datum.value, '.1f'), '\u2212', '-') : ''", "tickSize": {"condition": {"test": "round(datum.value*20) % 2 != 0", "value": 3}, "value": 6}, "title": "swing pole angle(/rad)", "titleFontSize": 17, "labelFontSize": 16, "labelPadding": 3, "minExtent": 34, "maxExtent": 34, "titlePadding": 5}},
       "color": {"datum": "R=e₀", "scale": {"domain": ["R=e₀", "R=Πeᵢ(i=0,1,2,3)"], "range": ["#444444", "#dd3b3b"]}, "legend": {"legendX": 33, "legendY": 9, "labelFontSize": 15.5, "padding": 4.5, "rowPadding": 8}}
      }},
     {"data": {"name": "d_red"}, "mark": {"type": "line", "strokeWidth": 1.6},
      "encoding": {"x": {"field": "x", "type": "quantitative"}, "y": {"field": "y", "type": "quantitative"}, "color": {"datum": "R=Πeᵢ(i=0,1,2,3)"}}},
     {"data": {"name": "d_minor"}, "mark": {"type": "rule", "color": "black", "strokeWidth": 1.3},
      "encoding": {"x": {"field": "x", "type": "quantitative"}, "y": {"field": "y", "type": "quantitative"}, "y2": {"field": "y2"}}},
     {"data": {"name": "vline"}, "mark": {"type": "rule", "color": "#2a3fd6", "strokeDash": [6, 4], "strokeWidth": 1.5},
      "encoding": {"x": {"field": "x", "type": "quantitative"}}},
     {"data": {"name": "d_note"}, "mark": {"type": "rule", "color": "#222", "strokeWidth": 1},
      "encoding": {"x": {"field": "x", "type": "quantitative"}, "y": {"field": "y", "type": "quantitative"}, "x2": {"field": "x2"}, "y2": {"field": "y2"}}},
     {"data": {"name": "d_note"}, "mark": {"type": "point", "shape": "triangle-left", "filled": true, "color": "#222", "size": 40, "angle": -7, "opacity": 1},
      "encoding": {"x": {"field": "hx", "type": "quantitative"}, "y": {"field": "hy", "type": "quantitative"}}},
     {"data": {"name": "d_note"}, "mark": {"type": "text", "align": "left", "baseline": "middle", "font": "Liberation Serif", "fontSize": 15, "color": "#111", "dx": 1},
      "encoding": {"x": {"field": "x", "type": "quantitative"}, "y": {"field": "y", "type": "quantitative"}, "text": {"field": "label"}}}
    ]
   }
  ],
  "spacing": 28,
  "resolve": {"scale": {"color": "independent"}, "legend": {"color": "independent"}},
  "title": {"text": "(c) cart position\u00a0\u00a0\u00a0\u200a(d) swing pole angle", "orient": "bottom", "anchor": "middle", "dx": 44, "offset": 22, "fontSize": 33}
 }
]
}
